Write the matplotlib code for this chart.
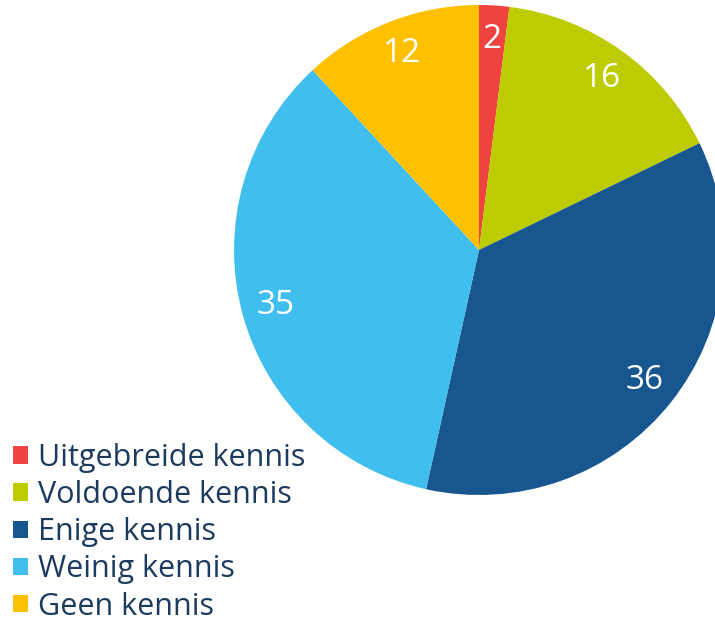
import matplotlib.pyplot as plt
from matplotlib.patches import Patch

categories = ["Uitgebreide kennis", "Voldoende kennis", "Enige kennis", "Weinig kennis", "Geen kennis"]
values = [2, 16, 36, 35, 12]
colors = ["#EF4340", "#BDCC00", "#17568F", "#40BFEE", "#FFC000"]

plt.rcParams["font.family"] = ["Open Sans", "DejaVu Sans"]

fig = plt.figure(figsize=(7.15, 6.22), dpi=100, facecolor="white")
# pie axes: center ~ (479, 250) px, radius ~245 px
ax = fig.add_axes([0.3273, 0.2042, 0.6853, 0.7878])
ax.pie(values, colors=colors, startangle=90, counterclock=False,
       labels=[str(v) for v in values], labeldistance=0.86,
       textprops=dict(color="white", fontsize=24),
       wedgeprops=dict(linewidth=0))
for t in ax.texts:
    t.set_horizontalalignment("center")
    t.set_verticalalignment("center")
ax.set_xlim(-1, 1)
ax.set_ylim(-1, 1)
ax.set_aspect("equal")
ax.axis("off")

handles = [Patch(facecolor=c, edgecolor="none") for c in colors]
fig.legend(handles, categories, loc="upper left", bbox_to_anchor=(0.018, 0.288),
           frameon=False, labelcolor="#1B3A5E",
           handlelength=0.5, handleheight=0.5, handletextpad=0.33,
           labelspacing=0.235, borderaxespad=0, borderpad=0,
           prop=dict(family="Open Sans", size=22))

plt.savefig("out.png", dpi=100)
